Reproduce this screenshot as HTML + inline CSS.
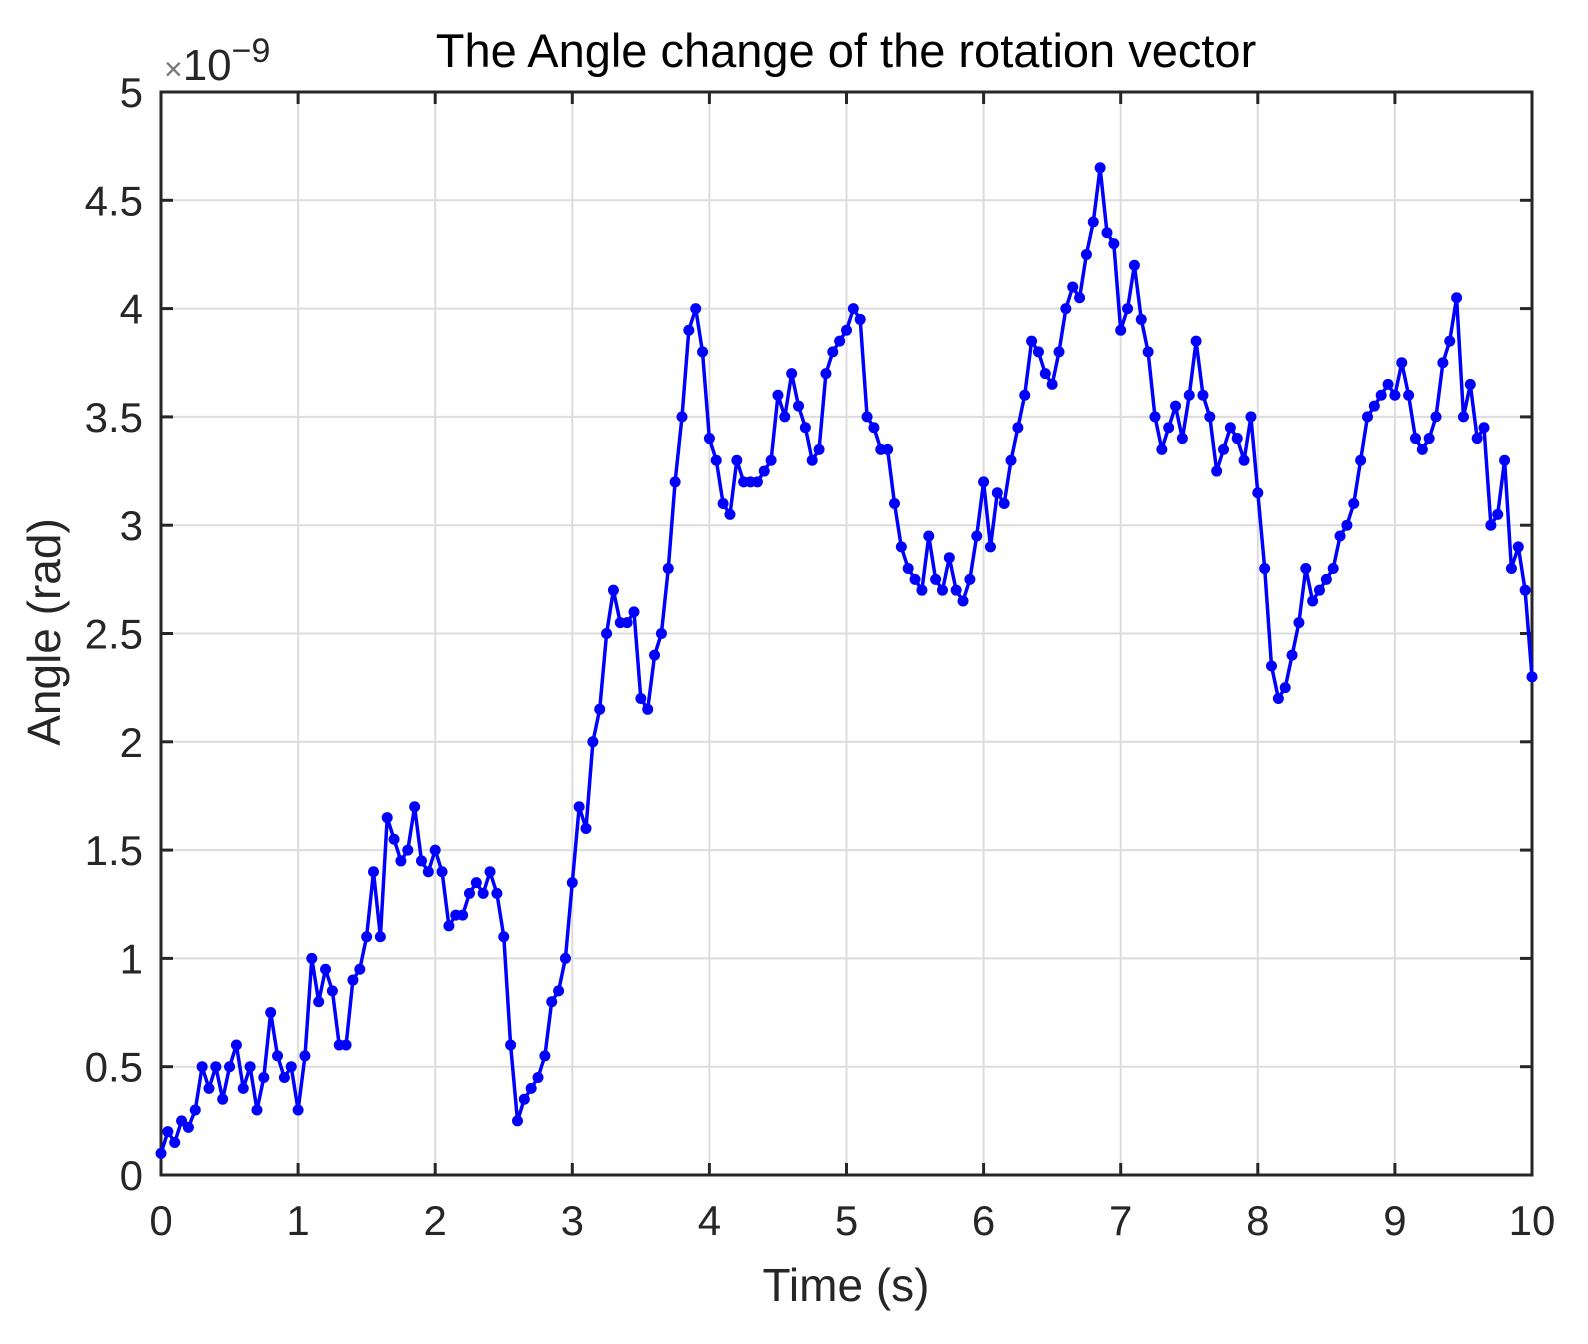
<!DOCTYPE html>
<html><head><meta charset="utf-8"><style>
html,body{margin:0;padding:0;background:#fff;}
svg text{font-family:"Liberation Sans",sans-serif;fill:#262626;}
</style></head><body>
<svg id="chart" width="1588" height="1339" viewBox="0 0 1588 1339" xmlns="http://www.w3.org/2000/svg">
<rect width="1588" height="1339" fill="#fff"/>
<g id="grid"></g>
<g id="axes"></g>
<g id="series"></g>
<text x="846" y="67" font-size="47" text-anchor="middle" style="fill:#000">The Angle change of the rotation vector</text>
<text x="846" y="1301" font-size="46" text-anchor="middle">Time (s)</text>
<text transform="translate(60,632) rotate(-90)" font-size="46" text-anchor="middle">Angle (rad)</text>
<text x="164" y="80" font-size="44"><tspan font-size="32" style="fill:#777">×</tspan>10<tspan dy="-18" font-size="34">−9</tspan></text>
</svg>
<script>
const xTicks=[0,1,2,3,4,5,6,7,8,9,10];
const yTicks=[0,0.5,1,1.5,2,2.5,3,3.5,4,4.5,5];
const yTickLabels=["0","0.5","1","1.5","2","2.5","3","3.5","4","4.5","5"];
const times=[];for(let i=0;i<=200;i++)times.push(i*0.05);
const angles=[0.1,0.2,0.15,0.25,0.22,0.3,0.5,0.4,0.5,0.35,0.5,0.6,0.4,0.5,0.3,0.45,0.75,0.55,0.45,0.5,
0.3,0.55,1.0,0.8,0.95,0.85,0.6,0.6,0.9,0.95,1.1,1.4,1.1,1.65,1.55,1.45,1.5,1.7,1.45,1.4,
1.5,1.4,1.15,1.2,1.2,1.3,1.35,1.3,1.4,1.3,1.1,0.6,0.25,0.35,0.4,0.45,0.55,0.8,0.85,1.0,
1.35,1.7,1.6,2.0,2.15,2.5,2.7,2.55,2.55,2.6,2.2,2.15,2.4,2.5,2.8,3.2,3.5,3.9,4.0,3.8,
3.4,3.3,3.1,3.05,3.3,3.2,3.2,3.2,3.25,3.3,3.6,3.5,3.7,3.55,3.45,3.3,3.35,3.7,3.8,3.85,
3.9,4.0,3.95,3.5,3.45,3.35,3.35,3.1,2.9,2.8,2.75,2.7,2.95,2.75,2.7,2.85,2.7,2.65,2.75,2.95,
3.2,2.9,3.15,3.1,3.3,3.45,3.6,3.85,3.8,3.7,3.65,3.8,4.0,4.1,4.05,4.25,4.4,4.65,4.35,4.3,
3.9,4.0,4.2,3.95,3.8,3.5,3.35,3.45,3.55,3.4,3.6,3.85,3.6,3.5,3.25,3.35,3.45,3.4,3.3,3.5,
3.15,2.8,2.35,2.2,2.25,2.4,2.55,2.8,2.65,2.7,2.75,2.8,2.95,3.0,3.1,3.3,3.5,3.55,3.6,3.65,
3.6,3.75,3.6,3.4,3.35,3.4,3.5,3.75,3.85,4.05,3.5,3.65,3.4,3.45,3.0,3.05,3.3,2.8,2.9,2.7,2.3];
const X0=161,X1=1532,Y0=1175,Y1=92;
const xs=v=>X0+(v-0)/(10-0)*(X1-X0);
const ys=v=>Y0-(v-0)/(5-0)*(Y0-Y1);
const NS="http://www.w3.org/2000/svg";
function mk(tag,attrs,parent){const e=document.createElementNS(NS,tag);for(const k in attrs)e.setAttribute(k,attrs[k]);parent.appendChild(e);return e;}
const grid=document.getElementById('grid'),axes=document.getElementById('axes'),series=document.getElementById('series');
xTicks.forEach(t=>{
 const l=mk('line',{x1:xs(t),x2:xs(t),y1:Y1,y2:Y0,stroke:'#dcdcdc','stroke-width':2},grid);
 
 
 mk('line',{x1:xs(t),x2:xs(t),y1:Y0,y2:Y0-12,stroke:'#262626','stroke-width':3},axes);
 mk('line',{x1:xs(t),x2:xs(t),y1:Y1,y2:Y1+12,stroke:'#262626','stroke-width':3},axes);
 const tx=mk('text',{x:xs(t),y:Y0+60,'font-size':42,'text-anchor':'middle'},axes);
 tx.textContent=String(t);
 
 
});
yTicks.forEach((t,i)=>{
 const l=mk('line',{x1:X0,x2:X1,y1:ys(t),y2:ys(t),stroke:'#dcdcdc','stroke-width':2},grid);
 
 
 mk('line',{x1:X0,x2:X0+12,y1:ys(t),y2:ys(t),stroke:'#262626','stroke-width':3},axes);
 mk('line',{x1:X1,x2:X1-12,y1:ys(t),y2:ys(t),stroke:'#262626','stroke-width':3},axes);
 const tx=mk('text',{x:X0-18,y:ys(t)+15,'font-size':42,'text-anchor':'end'},axes);
 tx.textContent=yTickLabels[i];
 
 
});
const box=mk('rect',{x:X0,y:Y1,width:X1-X0,height:Y0-Y1,fill:'none',stroke:'#262626','stroke-width':3},axes);


const pts=times.map((t,i)=>xs(t).toFixed(1)+','+ys(angles[i]).toFixed(1)).join(' ');
const pl=mk('polyline',{points:pts,fill:'none',stroke:'#0000ff','stroke-width':3.5,'stroke-linejoin':'round'},series);


times.forEach((t,i)=>{
 const c=mk('circle',{cx:xs(t),cy:ys(angles[i]),r:5.5,fill:'#0000ff'},series);
 
 
});
</script>
</body></html>
